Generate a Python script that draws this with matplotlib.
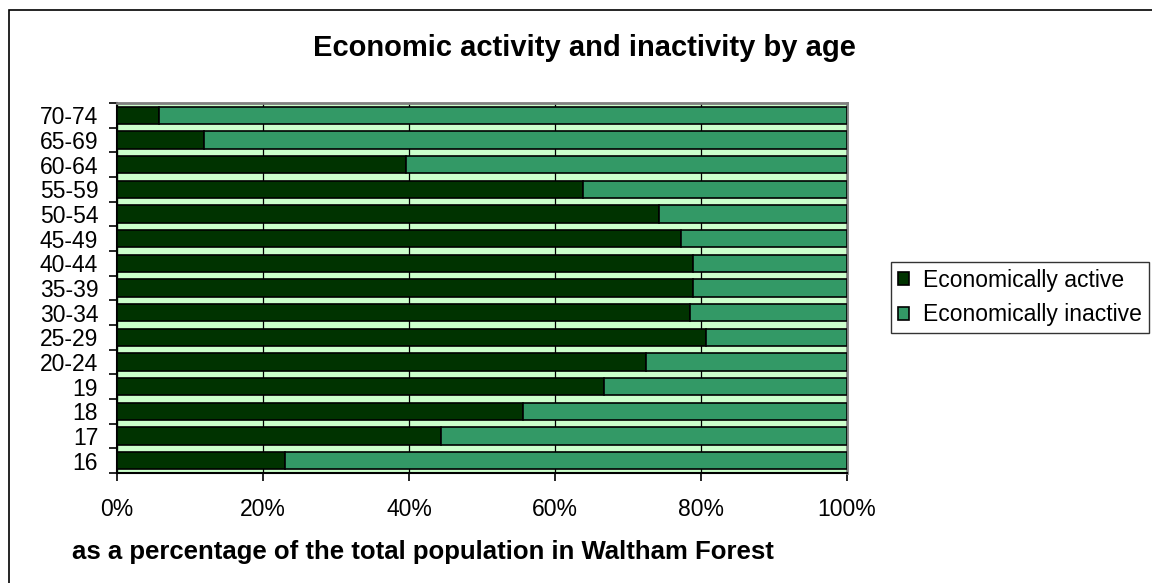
import matplotlib
matplotlib.use("Agg")
import matplotlib.pyplot as plt
import numpy as np
from matplotlib import ticker
from matplotlib.patches import Rectangle

plt.rcParams["font.family"] = ["Liberation Sans", "DejaVu Sans"]

# Age groups, bottom to top as drawn
ages = ["16", "17", "18", "19", "20-24", "25-29", "30-34", "35-39",
        "40-44", "45-49", "50-54", "55-59", "60-64", "65-69", "70-74"]
# Percent economically active
active = [23.0, 44.4, 55.6, 66.7, 72.5, 80.7, 78.5, 78.9,
          78.9, 77.3, 74.2, 63.8, 39.6, 11.9, 5.8]
inactive = [100.0 - a for a in active]

DARK = "#003300"
MID = "#339966"
BG = "#CCFFCC"

W, H = 1152, 583
fig = plt.figure(figsize=(W / 100, H / 100), dpi=100)
ax = fig.add_axes([117 / W, 1 - 473 / H, 730 / W, 370 / H])
ax.set_facecolor(BG)

y = np.arange(len(ages))
ax.barh(y, active, height=0.7, color=DARK, edgecolor="black", linewidth=1.2,
        label="Economically active", zorder=3)
ax.barh(y, inactive, left=active, height=0.7, color=MID, edgecolor="black",
        linewidth=1.2, label="Economically inactive", zorder=3)

ax.set_xlim(0, 100)
ax.set_ylim(-0.5, len(ages) - 0.5)

ax.xaxis.set_major_locator(ticker.MultipleLocator(20))
ax.xaxis.set_major_formatter(ticker.FuncFormatter(lambda v, _: f"{v:.0f}%"))
ax.grid(axis="x", color="black", linewidth=0.9, zorder=1)
ax.set_axisbelow(True)

# category labels centred on bars, tick marks at the boundaries
ax.set_yticks(y)
ax.set_yticklabels(ages)
ax.set_yticks(np.arange(len(ages) + 1) - 0.5, minor=True)
ax.tick_params(axis="y", which="major", length=0, pad=13.5, labelsize=16.5)
ax.tick_params(axis="y", which="minor", length=6, width=1.2)
ax.tick_params(axis="x", length=6, width=1.2, pad=12, labelsize=16.5)

for side in ("top", "right"):
  ax.spines[side].set_color("#808080")
  ax.spines[side].set_linewidth(2)
ax.spines["left"].set_linewidth(1.5)
ax.spines["bottom"].set_linewidth(1.5)

fig.text(584 / W, 1 - 48 / H, "Economic activity and inactivity by age",
         ha="center", va="center", fontsize=21, fontweight="bold")
fig.text(72 / W, 1 - 552 / H,
         "as a percentage of the total population in Waltham Forest",
         ha="left", va="center", fontsize=18.5, fontweight="bold")

leg = fig.legend(loc="upper left", bbox_to_anchor=(891 / W, 1 - 262 / H),
                 fontsize=16.5, frameon=True, fancybox=False, edgecolor="black",
                 handlelength=0.5, handleheight=0.5, handletextpad=0.6,
                 borderpad=0.3, labelspacing=0.5, borderaxespad=0)
leg.get_frame().set_linewidth(1)

# outer chart frame (right and bottom edges fall outside the image)
fig.patches.append(Rectangle((9 / W, -0.1), 1.2, 1 - 10 / H + 0.1,
                             transform=fig.transFigure, fill=False,
                             edgecolor="black", linewidth=1.2))

fig.savefig("out.png", dpi=100)
